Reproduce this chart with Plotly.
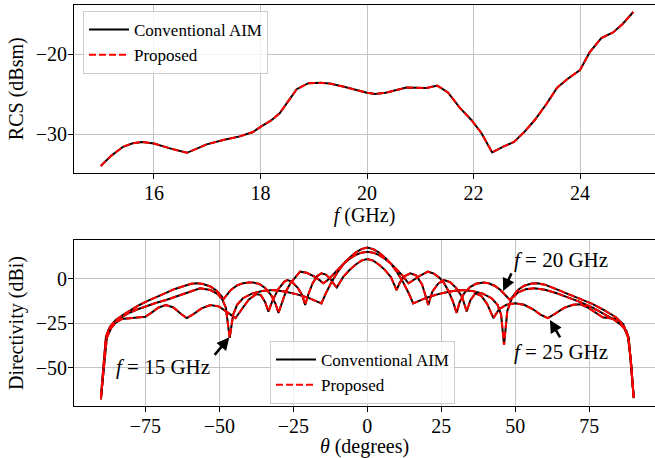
import plotly.graph_objects as go
from plotly.subplots import make_subplots

# ---- RCS versus frequency ----
freq_ghz = [15.0, 15.2, 15.42, 15.6, 15.78, 16.0, 16.3, 16.62, 16.99, 17.3, 17.61,
            17.86, 18.0, 18.2, 18.36, 18.68, 18.9, 19.13, 19.3, 19.57, 20.0, 20.15,
            20.35, 20.74, 21.12, 21.32, 21.52, 21.74, 21.96, 22.15, 22.35, 22.55,
            22.76, 22.96, 23.15, 23.37, 23.57, 23.77, 24.0, 24.18, 24.4, 24.62,
            24.8, 25.0]
rcs_conventional = [-34.0, -32.7, -31.6, -31.15, -31.0, -31.2, -31.8, -32.35, -31.3,
                    -30.75, -30.3, -29.75, -29.1, -28.3, -27.4, -24.4, -23.65, -23.6,
                    -23.7, -24.1, -24.85, -25.0, -24.85, -24.2, -24.25, -23.95, -24.8,
                    -26.7, -28.25, -29.9, -32.3, -31.6, -31.0, -29.7, -28.25, -26.25,
                    -24.2, -23.1, -22.0, -19.8, -18.0, -17.3, -16.25, -14.75]
rcs_proposed = list(rcs_conventional)

# ---- Directivity patterns (theta in degrees, directivity in dBi) ----
theta_15 = [-90, -89, -88.3, -87.5, -86, -84, -81, -78, -75, -71.5, -68, -64, -60,
            -56.5, -53, -50.5, -49, -47.8, -46.5, -45.3, -44, -42, -39, -35.5, -32,
            -28, -24, -20, -17.5, -15.5, -14, -12, -10, -8, -6, -4, -2, 0,
            2, 4, 6, 8, 10, 12, 14, 15.5, 17.5, 20, 24, 28, 31.5, 35.5, 39, 42,
            44, 45.2, 46.2, 47.3, 48.8, 51, 53.5, 56.5, 60, 64, 68, 72, 76, 80,
            83, 85.5, 87.5, 88.3, 89, 90]
dir_15 = [-67.6, -47, -35, -28.7, -25.5, -22.5, -19.5, -17.3, -15.5, -13.5, -11.8,
          -9.5, -7, -5.2, -6.2, -8.5, -11.5, -16, -33, -20, -14.5, -10.8, -8.2, -6.7,
          -6.2, -7.0, -8.5, -10.5, -12.3, -13.7, -8, -1.5, 4, 8.5, 12, 14.8, 16.8,
          17.6, 16.8, 14.8, 12, 8.5, 4, -1.5, -8, -13.7, -12.3, -10.5, -8.5, -7.0,
          -6.2, -6.7, -8.2, -10.8, -14.5, -20, -37, -18, -11, -7.5, -5.8, -5.2, -6,
          -8, -10.5, -13, -16, -19.5, -22.5, -25.5, -29, -33, -46, -67]

theta_20 = [-90, -89, -88.3, -87, -85, -82.5, -80, -77, -74, -71, -68, -65, -62,
            -59.5, -57.5, -55.5, -53, -51, -49.5, -48.5, -47.5, -46, -44, -42, -40,
            -38.5, -36.5, -34.5, -32.5, -31, -30, -29, -27.5, -26, -24.5, -22.7,
            -20.5, -18, -16, -14.9, -13.5, -12, -10, -8, -6, -4, -2, 0,
            2, 4, 6, 8, 10, 12, 13.9, 15.5, 18, 20.5, 22.5, 24.5, 26, 27.5, 29,
            30.2, 31.2, 32.7, 34.7, 36.7, 39.2, 41, 43, 45, 46.5, 48.2, 49.5, 51,
            53, 55.5, 57.5, 60, 64, 68, 72, 76, 80, 84, 86.5, 88.2, 89, 90]
dir_20 = [-66, -45, -32.4, -27, -23, -20.2, -17.5, -14.6, -12.2, -9.8, -7.8, -5.6,
          -3.8, -2.7, -2.4, -2.8, -4.2, -6.5, -9.2, -11.2, -9, -6, -3.6, -2.4, -2.0,
          -2.0, -2.8, -5, -9, -14, -19, -14, -7, -2.5, 0.8, 4.1, 3.5, 1.5, -0.8,
          -2.4, -0.8, 1.8, 5.2, 8.6, 11.3, 13.4, 14.8, 15.3, 14.8, 13.4, 11.3, 8.6,
          5.2, 1.8, -2.4, -0.5, 2.0, 4.1, 3.0, 0.5, -2.5, -7, -13, -19, -13, -8,
          -4.5, -2.7, -2.0, -2.4, -3.8, -6.2, -8.8, -11.8, -9, -6, -3.8, -2.6, -2.4,
          -3.2, -5.8, -8.5, -11, -14, -17.5, -21.5, -26.5, -33, -45, -66]

theta_25 = [-90, -89, -88, -86.5, -85, -83, -80, -77, -75, -73, -70.5, -68, -65.5,
            -63, -61, -59, -56, -53, -50, -47.5, -44.5, -42, -40, -37.5, -36, -34.5,
            -33.4, -32, -30, -28, -27, -25.5, -23.5, -22, -21, -20, -18.5, -17,
            -15.5, -14, -12.5, -11.2, -10.3, -9.5, -8, -6, -4, -2, 0,
            2, 4, 6, 8, 9.9, 11, 12.5, 14.5, 16.5, 18.5, 20.6, 22, 24, 26, 28, 30,
            32, 33.6, 34.8, 36.5, 38.5, 40.5, 42.6, 44.5, 47, 50, 53, 56, 58.5, 61,
            63.5, 66.5, 69.5, 72, 74.5, 77, 79.5, 82, 84.5, 86.5, 88, 89, 90]
dir_25 = [-67, -48, -33, -27.5, -24.5, -22.5, -22, -21.8, -21.2, -19, -16, -14.6,
          -16, -19.5, -22, -20, -16.5, -14.6, -15.5, -18.5, -22, -16, -11.5, -8.5,
          -9, -13, -18.3, -12, -5.5, -1.5, -0.6, -1.5, -5, -9, -14.6, -9, -2.5,
          1.5, 3.2, 2.5, 0, -3, -4.8, -2.5, 1.5, 5, 8, 10.3, 11.2, 10.3, 8, 5, 1,
          -6.2, -2, 1.5, 3.2, 2, -3, -14.6, -7, -2.5, -0.6, -1.8, -5, -10, -18.3,
          -12, -8, -9.5, -14, -22, -17, -14.5, -13.7, -14.5, -17, -20, -22, -19.5,
          -16.2, -14.5, -14.2, -16, -19, -21.5, -22, -22.5, -25.5, -32, -45, -66.5]

patterns = [
    (theta_15, dir_15, list(dir_15)),
    (theta_20, dir_20, list(dir_20)),
    (theta_25, dir_25, list(dir_25)),
]

FONT = "Liberation Serif"
GRID = "#c4c4c4"

fig = make_subplots(rows=2, cols=1, vertical_spacing=0.1)

# conventional solution: black solid, proposed solution: red dashed on top
fig.add_trace(go.Scatter(x=freq_ghz, y=rcs_conventional, mode="lines",
                         line=dict(color="black", width=2),
                         name="Conventional AIM", legend="legend"), row=1, col=1)
fig.add_trace(go.Scatter(x=freq_ghz, y=rcs_proposed, mode="lines",
                         line=dict(color="red", width=2, dash="7px,3px"),
                         name="Proposed", legend="legend"), row=1, col=1)

for i, (th, conv, prop) in enumerate(patterns):
    fig.add_trace(go.Scatter(x=th, y=conv, mode="lines",
                             line=dict(color="black", width=2),
                             name="Conventional AIM", legend="legend2",
                             showlegend=(i == 0)),
                  row=2, col=1)
for i, (th, conv, prop) in enumerate(patterns):
    fig.add_trace(go.Scatter(x=th, y=prop, mode="lines",
                             line=dict(color="red", width=2, dash="7px,3px"),
                             name="Proposed", legend="legend2",
                             showlegend=(i == 0)),
                  row=2, col=1)

axis_common = dict(showline=True, linecolor="black", linewidth=1,
                   ticks="outside", ticklen=5, tickcolor="black",
                   showgrid=True, gridcolor=GRID, gridwidth=1, zeroline=False,
                   ticklabelstandoff=-3,
                   tickfont=dict(family=FONT, size=20, color="black"))

top_dom = [(406 - 173) / 402, (406 - 4.5) / 402]
bot_dom = [0, (406 - 240) / 402]

legend_common = dict(xanchor="left", yanchor="top",
                     bgcolor="rgba(255,255,255,0.8)", bordercolor="#cccccc",
                     borderwidth=1, itemwidth=40, tracegroupgap=0,
                     traceorder="normal",
                     font=dict(family=FONT, size=17, color="black"))

fig.update_layout(
    width=655, height=458,
    margin=dict(l=74, r=0, t=4, b=52),
    paper_bgcolor="white", plot_bgcolor="white",
    font=dict(family=FONT, color="black"),
    xaxis=dict(axis_common, range=[14.498, 25.408], dtick=2, mirror=True,
               domain=[0, 1],
               title=dict(text="<i>f</i> (GHz)", standoff=2,
                          font=dict(family=FONT, size=20))),
    yaxis=dict(axis_common, range=[-34.875, -13.81], dtick=10, domain=top_dom,
               title=dict(text="RCS (dBsm)", standoff=6,
                          font=dict(family=FONT, size=20))),
    xaxis2=dict(axis_common, range=[-99.09, 97.2], dtick=25, mirror=True,
                domain=[0, 1],
                title=dict(text="<i>θ</i> (degrees)", standoff=0,
                           font=dict(family=FONT, size=20))),
    yaxis2=dict(axis_common, range=[-71.35, 21.9], dtick=25, domain=bot_dom,
                title=dict(text="Directivity (dBi)", standoff=6,
                           font=dict(family=FONT, size=20))),
    legend=dict(legend_common, x=(83 - 74) / 581, y=(406 - 11) / 402),
    legend2=dict(legend_common, x=(270 - 74) / 581, y=(406 - 341) / 402),
    showlegend=True,
)

# frequency labels with arrows on the directivity plot
labels = [
    # text, text position, arrow head, arrow tail offset (px)
    ("<i>f</i> = 15 GHz", (-69.0, -49.4), (-46.6, -32.8), (-16, 19)),
    ("<i>f</i> = 20 GHz", (65.6, 10.7), (45.9, -6.7), (9, -19)),
    ("<i>f</i> = 25 GHz", (65.6, -40.8), (61.7, -23.0), (11, 19)),
]
for text, (tx, ty), (hx, hy), (ax, ay) in labels:
    fig.add_annotation(x=tx, y=ty, xref="x2", yref="y2", text=text,
                       showarrow=False,
                       font=dict(family=FONT, size=21, color="black"))
    fig.add_annotation(x=hx, y=hy, xref="x2", yref="y2", text="",
                       showarrow=True, ax=ax, ay=ay, arrowhead=2,
                       arrowsize=1, arrowwidth=2.5, arrowcolor="black")

fig.write_html("out.html")
